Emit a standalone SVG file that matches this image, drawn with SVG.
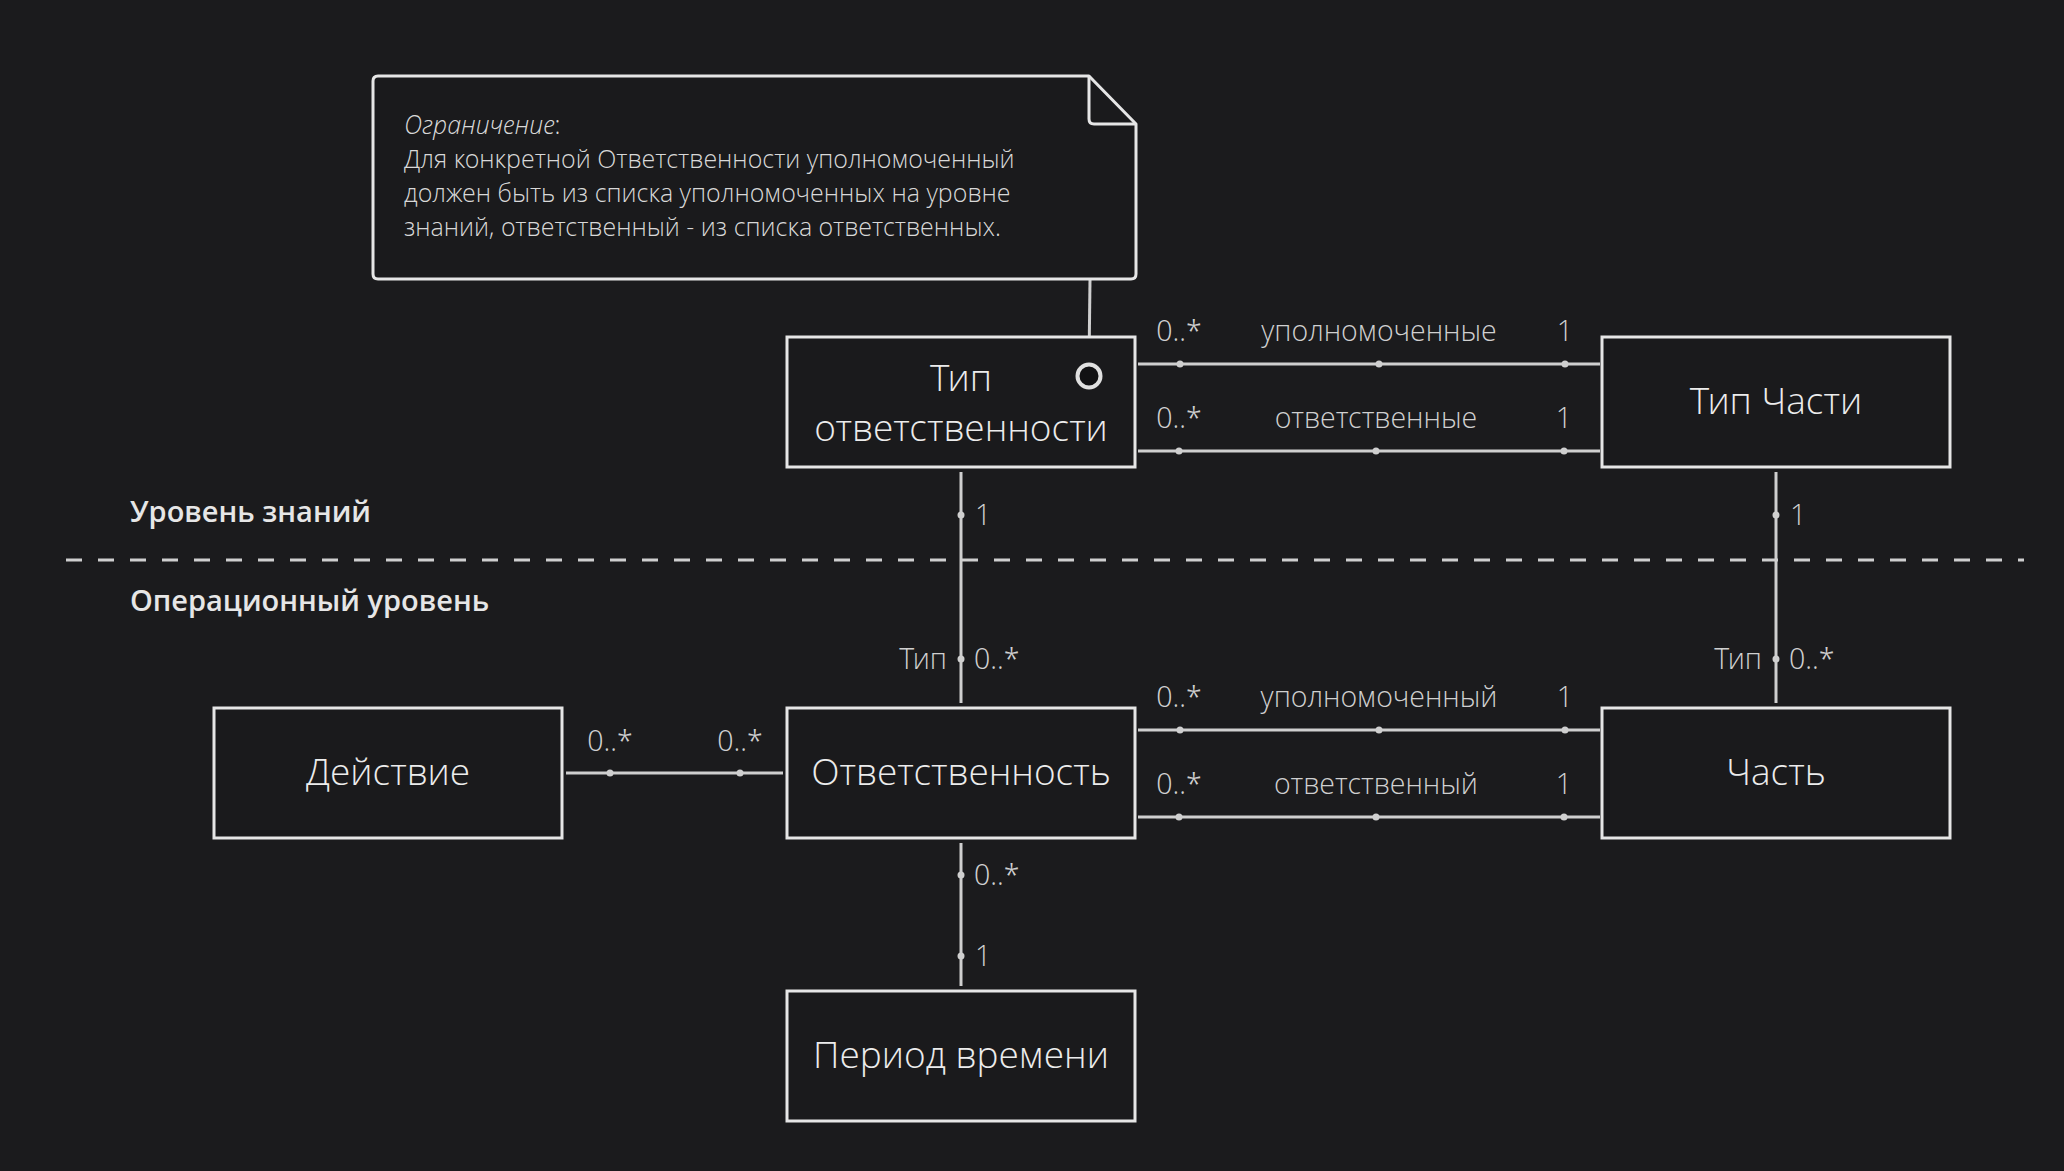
<svg xmlns="http://www.w3.org/2000/svg" width="2064" height="1171" viewBox="0 0 2064 1171">
<style>
.bg{fill:#1b1b1d}
.box{fill:#1a1a1c;stroke:#e6e6e6;stroke-width:3}
.node{font-family:"Open Sans Light","Open Sans","Noto Sans",sans-serif;font-weight:300;font-size:37px;fill:#ececec;text-anchor:middle}
.lbl{font-family:"Open Sans Light","Open Sans","Noto Sans",sans-serif;font-weight:300;font-size:28.5px;fill:#d0d0d0}
.mid{text-anchor:middle}
.end{text-anchor:end}
.line{stroke:#cfcfcf;stroke-width:3;fill:none}
.dot{fill:#cfcfcf}
.head{font-family:"Open Sans","Noto Sans",sans-serif;font-weight:600;font-size:29px;fill:#e6e6e6}
.note{font-family:"Open Sans Light","Open Sans","Noto Sans",sans-serif;font-weight:300;font-size:25px;fill:#d8d8d8}
</style>
<rect class="bg" x="0" y="0" width="2064" height="1171"/>

<g id="separator">
<line x1="66" y1="560" x2="2024" y2="560" stroke="#cfcfcf" stroke-width="3" stroke-dasharray="16 16"/>
<text class="head" x="130" y="522">Уровень знаний</text>
<text class="head" x="130" y="611">Операционный уровень</text>
</g>

<g id="connectors">
<line class="line" x1="1090" y1="280" x2="1089" y2="364"/>
<line class="line" x1="1138" y1="364" x2="1600" y2="364"/>
<circle class="dot" cx="1180" cy="364" r="3.5"/><circle class="dot" cx="1379" cy="364" r="3.5"/><circle class="dot" cx="1565" cy="364" r="3.5"/>
<text class="lbl mid" x="1179" y="341">0..*</text>
<text class="lbl mid" x="1379" y="341">уполномоченные</text>
<text class="lbl mid" x="1565" y="341">1</text>
<line class="line" x1="1138" y1="451" x2="1600" y2="451"/>
<circle class="dot" cx="1179" cy="451" r="3.5"/><circle class="dot" cx="1376" cy="451" r="3.5"/><circle class="dot" cx="1564" cy="451" r="3.5"/>
<text class="lbl mid" x="1179" y="428">0..*</text>
<text class="lbl mid" x="1376" y="428">ответственные</text>
<text class="lbl mid" x="1564" y="428">1</text>
<line class="line" x1="1138" y1="730" x2="1600" y2="730"/>
<circle class="dot" cx="1180" cy="730" r="3.5"/><circle class="dot" cx="1379" cy="730" r="3.5"/><circle class="dot" cx="1565" cy="730" r="3.5"/>
<text class="lbl mid" x="1179" y="707">0..*</text>
<text class="lbl mid" x="1379" y="707">уполномоченный</text>
<text class="lbl mid" x="1565" y="707">1</text>
<line class="line" x1="1138" y1="817" x2="1600" y2="817"/>
<circle class="dot" cx="1179" cy="817" r="3.5"/><circle class="dot" cx="1376" cy="817" r="3.5"/><circle class="dot" cx="1564" cy="817" r="3.5"/>
<text class="lbl mid" x="1179" y="794">0..*</text>
<text class="lbl mid" x="1376" y="794">ответственный</text>
<text class="lbl mid" x="1564" y="794">1</text>
<line class="line" x1="961" y1="472" x2="961" y2="703"/>
<circle class="dot" cx="961" cy="515" r="3.5"/><circle class="dot" cx="961" cy="659" r="3.5"/>
<text class="lbl" x="975" y="525">1</text>
<text class="lbl end" x="947" y="669">Тип</text>
<text class="lbl" x="974" y="669">0..*</text>
<line class="line" x1="1776" y1="472" x2="1776" y2="703"/>
<circle class="dot" cx="1776" cy="515" r="3.5"/><circle class="dot" cx="1776" cy="659" r="3.5"/>
<text class="lbl" x="1790" y="525">1</text>
<text class="lbl end" x="1762" y="669">Тип</text>
<text class="lbl" x="1789" y="669">0..*</text>
<line class="line" x1="566" y1="773" x2="783" y2="773"/>
<circle class="dot" cx="610" cy="773" r="3.5"/><circle class="dot" cx="740" cy="773" r="3.5"/>
<text class="lbl mid" x="610" y="751">0..*</text>
<text class="lbl mid" x="740" y="751">0..*</text>
<line class="line" x1="961" y1="843" x2="961" y2="986"/>
<circle class="dot" cx="961" cy="875" r="3.5"/><circle class="dot" cx="961" cy="956" r="3.5"/>
<text class="lbl" x="974" y="885">0..*</text>
<text class="lbl" x="975" y="966">1</text>
</g>

<g id="note">
<path d="M378,76 L1089,76 L1136,124 L1136,274 Q1136,279 1131,279 L378,279 Q373,279 373,274 L373,81 Q373,76 378,76 Z" fill="#1a1a1c" stroke="#e6e6e6" stroke-width="3" stroke-linejoin="round"/>
<path d="M1089,76 L1089,119 Q1089,124 1094,124 L1136,124" fill="none" stroke="#e6e6e6" stroke-width="3" stroke-linejoin="round"/>
<text class="note" x="404" y="134"><tspan font-style="italic">Ограничение</tspan>:</text>
<text class="note" x="404" y="168">Для конкретной Ответственности уполномоченный</text>
<text class="note" x="404" y="202">должен быть из списка уполномоченных на уровне</text>
<text class="note" x="404" y="236">знаний, ответственный - из списка ответственных.</text>
</g>

<g id="tip-otvetstvennosti">
<rect class="box" x="787" y="337" width="348" height="130"/>
<text class="node" x="961" y="391">Тип</text>
<text class="node" x="961" y="441">ответственности</text>
<circle cx="1089" cy="376" r="11.5" fill="#111113" stroke="#e0e0e0" stroke-width="4"/>
</g>

<g id="tip-chasti">
<rect class="box" x="1602" y="337" width="348" height="130"/>
<text class="node" x="1776" y="414">Тип Части</text>
</g>

<g id="deystvie">
<rect class="box" x="214" y="708" width="348" height="130"/>
<text class="node" x="388" y="785">Действие</text>
</g>

<g id="otvetstvennost">
<rect class="box" x="787" y="708" width="348" height="130"/>
<text class="node" x="961" y="785">Ответственность</text>
</g>

<g id="chast">
<rect class="box" x="1602" y="708" width="348" height="130"/>
<text class="node" x="1776" y="785">Часть</text>
</g>

<g id="period">
<rect class="box" x="787" y="991" width="348" height="130"/>
<text class="node" x="961" y="1068">Период времени</text>
</g>
</svg>
